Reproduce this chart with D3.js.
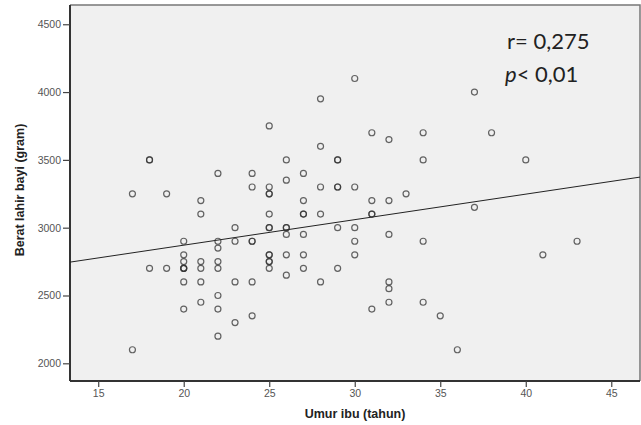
<!DOCTYPE html>
<html><head><meta charset="utf-8">
<script src="https://cdn.jsdelivr.net/npm/d3@7"></script>
<style>html,body{margin:0;padding:0;background:#fff;}svg{display:block;}</style>
</head><body>
<svg id="chart" width="641" height="425"></svg>
<script>
// Mother's age (years) and baby birth weight (grams)
const ages = [
  17,17,
  18,18,18,
  19,19,
  20,20,20,20,20,20,20,20,
  21,21,21,21,21,21,
  22,22,22,22,22,22,22,22,
  23,23,23,23,
  24,24,24,24,24,24,
  25,25,25,25,25,25,25,25,25,25,25,25,
  26,26,26,26,26,26,26,
  27,27,27,27,27,27,27,
  28,28,28,28,28,
  29,29,29,29,29,29,
  30,30,30,30,30,
  31,31,31,31,31,
  32,32,32,32,32,32,
  33,
  34,34,34,34,
  35,36,37,37,38,40,41,43
];
const weights = [
  3250,2100,
  3500,3500,2700,
  3250,2700,
  2900,2800,2750,2700,2700,2700,2600,2400,
  3200,3100,2750,2700,2600,2450,
  3400,2900,2850,2750,2700,2500,2400,2200,
  3000,2900,2600,2300,
  3400,3300,2900,2900,2600,2350,
  3750,3300,3250,3250,3100,3000,3000,2800,2800,2750,2750,2700,
  3500,3350,3000,3000,2950,2800,2650,
  3400,3200,3100,3100,2950,2800,2700,
  3950,3600,3300,3100,2600,
  3500,3500,3300,3300,3000,2700,
  4100,3300,3000,2900,2800,
  3700,3200,3100,3100,2400,
  3650,3200,2950,2600,2550,2450,
  3250,
  3700,3500,2900,2450,
  2350,2100,4000,3150,3700,3500,2800,2900
];
// fitted line end points
const fitAges = [13.35, 46.68];
const fitWeights = [2746, 3373];
const xTicks = [15,20,25,30,35,40,45];
const yTicks = [2000,2500,3000,3500,4000,4500];
const xDomain = [13.35, 46.68];
const yDomain = [1869.5, 4642];
const statLines = ["r= 0,275", "< 0,01"];

const svg = d3.select("#chart");
const L = 70, R = 640, T = 5, B = 381;
const x = d3.scaleLinear().domain(xDomain).range([L, R]);
const y = d3.scaleLinear().domain(yDomain).range([B, T]);

// plot background
svg.append("rect").attr("x", L).attr("y", T).attr("width", R - L).attr("height", B - T)
  .attr("fill", "#f0f0f0");
// top and right border
svg.append("path").attr("d", `M${L},${T}H${R}V${B}`).attr("fill", "none")
  .attr("stroke", "#777").attr("stroke-width", 1.5);

// axes
const xAxis = svg.append("g").attr("transform", `translate(0,${B})`)
  .call(d3.axisBottom(x).tickValues(xTicks).tickFormat(d3.format("d")).tickSize(6).tickPadding(3).tickSizeOuter(0));
const yAxis = svg.append("g").attr("transform", `translate(${L},0)`)
  .call(d3.axisLeft(y).tickValues(yTicks).tickFormat(d3.format("d")).tickSize(7).tickPadding(2).tickSizeOuter(0));
[xAxis, yAxis].forEach(g => {
  g.select(".domain").attr("stroke", "#333").attr("stroke-width", 2);
  g.selectAll(".tick line").attr("stroke", "#444").attr("stroke-width", 1.2);
  g.selectAll(".tick text").attr("fill", "#555").attr("font-family", "Liberation Sans, Arial, sans-serif")
    .attr("font-size", 10.5);
});
xAxis.select(".domain").attr("d", `M${L},0H${R}`);
yAxis.select(".domain").attr("d", `M0,${T}V${B}`);

// regression line
svg.append("line")
  .attr("x1", x(fitAges[0])).attr("y1", y(fitWeights[0]))
  .attr("x2", x(fitAges[1])).attr("y2", y(fitWeights[1]))
  .attr("stroke", "#222").attr("stroke-width", 1);

// points
svg.append("g").selectAll("circle").data(ages.map((a, i) => [a, weights[i]]))
  .join("circle")
  .attr("cx", d => x(d[0])).attr("cy", d => y(d[1])).attr("r", 3)
  .attr("fill", "none").attr("stroke", "#333").attr("stroke-opacity", 0.75).attr("stroke-width", 1.2);

// axis titles
svg.append("text").attr("x", 355).attr("y", 418).attr("text-anchor", "middle")
  .attr("font-family", "Liberation Sans, Arial, sans-serif").attr("font-weight", "bold")
  .attr("font-size", 12.5).attr("fill", "#222").text("Umur ibu (tahun)");
svg.append("text").attr("transform", "translate(24,190) rotate(-90)").attr("text-anchor", "middle")
  .attr("font-family", "Liberation Sans, Arial, sans-serif").attr("font-weight", "bold")
  .attr("font-size", 12.5).attr("fill", "#222").text("Berat lahir bayi (gram)");

// statistics annotation
const stat = svg.append("g").attr("font-family", "Lato, 'Open Sans', sans-serif").attr("font-size", 22).attr("fill", "#222");
stat.append("text").attr("x", 507).attr("y", 49).text(statLines[0]);
const t2 = stat.append("text").attr("x", 505).attr("y", 82);
t2.append("tspan").attr("font-style", "italic").text("p");
t2.append("tspan").text(statLines[1]);
</script>
</body></html>
